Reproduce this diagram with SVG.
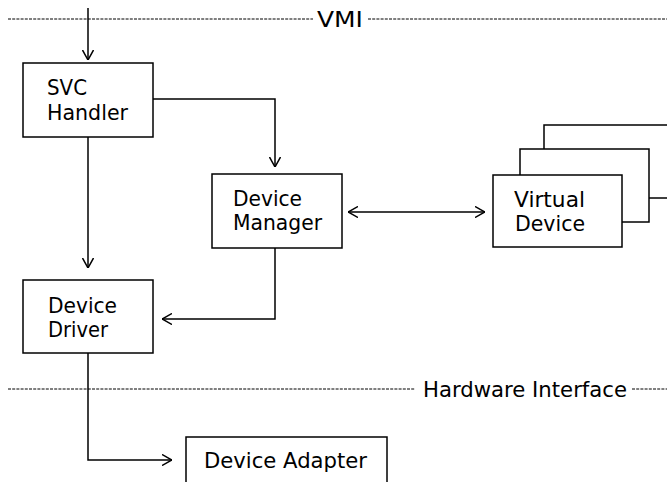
<svg xmlns="http://www.w3.org/2000/svg" width="667" height="482" viewBox="0 0 667 482">
<defs>
<style>
.box{fill:#fff;stroke:#000;stroke-width:1.5}
.ln{fill:none;stroke:#000;stroke-width:1.5}
.dash{fill:none;stroke:#000;stroke-width:1;stroke-dasharray:3 1.2}
text{font-family:"DejaVu Sans","Liberation Sans",sans-serif;font-size:21px;fill:#000}
</style>
<marker id="ah" viewBox="0 0 10 12" refX="10" refY="6" markerWidth="10" markerHeight="12" markerUnits="userSpaceOnUse" orient="auto-start-reverse">
<path d="M0,0.5 L10,6 L0,11.5" fill="none" stroke="#000" stroke-width="1.5"/>
</marker>
</defs>
<rect width="667" height="482" fill="#fff"/>
<g id="interfaces">
<line class="dash" x1="8" y1="19" x2="313" y2="19"/>
<line class="dash" x1="368" y1="19" x2="667" y2="19"/>
<text x="317" y="27" textLength="46" lengthAdjust="spacingAndGlyphs">VMI</text>
<line class="dash" x1="8" y1="389" x2="415" y2="389"/>
<line class="dash" x1="632" y1="389" x2="667" y2="389"/>
<text x="423" y="397" textLength="204" lengthAdjust="spacingAndGlyphs">Hardware Interface</text>
</g>
<g id="connectors">
<path class="ln" d="M88,8 V60" marker-end="url(#ah)"/>
<path class="ln" d="M153,99 H275 V167" marker-end="url(#ah)"/>
<path class="ln" d="M88,137 V268" marker-end="url(#ah)"/>
<path class="ln" d="M275,248 V319 H162" marker-end="url(#ah)"/>
<path class="ln" d="M348,212 H485" marker-start="url(#ah)" marker-end="url(#ah)"/>
<path class="ln" d="M88,353 V460 H172" marker-end="url(#ah)"/>
</g>
<g id="svc-handler">
<rect class="box" x="23" y="63" width="130" height="74"/>
<text x="47" y="95" textLength="40" lengthAdjust="spacingAndGlyphs">SVC</text>
<text x="47" y="120" textLength="81" lengthAdjust="spacingAndGlyphs">Handler</text>
</g>
<g id="device-manager">
<rect class="box" x="212" y="174" width="130" height="74"/>
<text x="233" y="206" textLength="69" lengthAdjust="spacingAndGlyphs">Device</text>
<text x="233" y="230" textLength="89" lengthAdjust="spacingAndGlyphs">Manager</text>
</g>
<g id="virtual-device">
<rect class="box" x="544" y="125" width="140" height="73"/>
<rect class="box" x="520" y="149" width="129" height="73"/>
<rect class="box" x="493" y="175" width="129" height="72"/>
<text x="514" y="207" textLength="71" lengthAdjust="spacingAndGlyphs">Virtual</text>
<text x="515" y="231" textLength="70" lengthAdjust="spacingAndGlyphs">Device</text>
</g>
<g id="device-driver">
<rect class="box" x="23" y="280" width="130" height="73"/>
<text x="48" y="313" textLength="69" lengthAdjust="spacingAndGlyphs">Device</text>
<text x="48" y="337" textLength="60" lengthAdjust="spacingAndGlyphs">Driver</text>
</g>
<g id="device-adapter">
<rect class="box" x="186" y="437" width="201" height="60"/>
<text x="204" y="468" textLength="163" lengthAdjust="spacingAndGlyphs">Device Adapter</text>
</g>
</svg>
